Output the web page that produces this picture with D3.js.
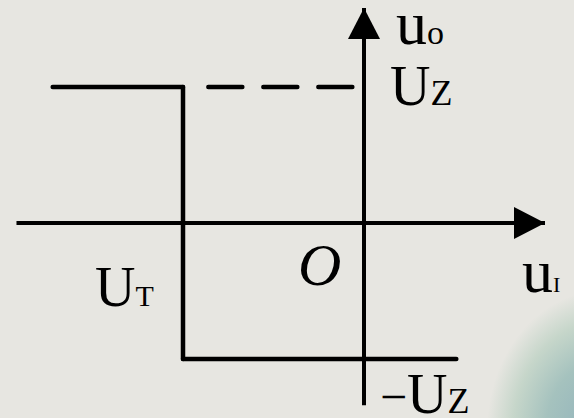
<!DOCTYPE html>
<html>
<head>
<meta charset="utf-8">
<script src="https://cdn.jsdelivr.net/npm/d3@7"></script>
<style>
  html, body { margin: 0; padding: 0; background: #e7e6e1; }
  svg { display: block; }
</style>
</head>
<body>
<div id="chart"></div>
<script>
let width = 574;
let height = 418;

// hysteresis curve, units: x in |UT|, y in UZ
let upperX = [-1.72, -1];
let upperY = [1, 1];
let jumpX = [-1, -1];
let jumpY = [1, -1];
let lowerX = [-1, 0.51];
let lowerY = [-1, -1];
let dashX = [-0.86, -0.05];
let dashY = [1, 1];
let axisXRange = [-1.92, 1.0];
let axisYRange = [-1.34, 1.58];

let x = d3.scaleLinear().domain([-1, 0]).range([183, 364]);
let y = d3.scaleLinear().domain([-1, 1]).range([359, 87]);

let svg = d3.select("#chart").append("svg")
    .attr("width", width)
    .attr("height", height);

svg.append("rect").attr("width", width).attr("height", height).attr("fill", "#e7e6e1");

// decorative blob in the corner, fading softly into the background
let defs = svg.append("defs");
let grad = defs.append("radialGradient").attr("id", "blob")
    .attr("cx", "0.5").attr("cy", "0.5").attr("r", "0.5");
grad.append("stop").attr("offset", "0%").attr("stop-color", "#8eb0bb");
grad.append("stop").attr("offset", "50%").attr("stop-color", "#a5c2be");
grad.append("stop").attr("offset", "78%").attr("stop-color", "#c6d6ca");
grad.append("stop").attr("offset", "100%").attr("stop-color", "#e7e6e1");
svg.append("ellipse")
    .attr("cx", 605).attr("cy", 430)
    .attr("rx", 118).attr("ry", 140)
    .attr("fill", "url(#blob)");

let line = d3.line().x(d => x(d[0])).y(d => y(d[1]));
let pts = (xs, ys) => xs.map((v, i) => [v, ys[i]]);

// axes
svg.append("path")
    .attr("d", line(pts(axisXRange, [0, 0])))
    .attr("stroke", "#000").attr("stroke-width", 4).attr("fill", "none");
svg.append("path")
    .attr("d", line(pts([0, 0], axisYRange)))
    .attr("stroke", "#000").attr("stroke-width", 4).attr("fill", "none");

let tipX = x(axisXRange[1]), tipY = y(axisYRange[1]);
svg.append("path")
    .attr("d", `M${tipX},${y(0)} L${tipX - 31},${y(0) - 16} L${tipX - 31},${y(0) + 16} Z`)
    .attr("fill", "#000");
svg.append("path")
    .attr("d", `M${x(0)},${tipY} L${x(0) - 16},${tipY + 31} L${x(0) + 16},${tipY + 31} Z`)
    .attr("fill", "#000");

// curve
[pts(upperX, upperY), pts(jumpX, jumpY), pts(lowerX, lowerY)].forEach(p => {
    svg.append("path")
        .attr("d", line(p))
        .attr("stroke", "#000").attr("stroke-width", 4.5)
        .attr("stroke-linecap", "round").attr("stroke-linejoin", "miter")
        .attr("fill", "none");
});
svg.append("path")
    .attr("d", line(pts(dashX, dashY)))
    .attr("stroke", "#000").attr("stroke-width", 4.5)
    .attr("stroke-dasharray", "34,21")
    .attr("stroke-linecap", "round")
    .attr("fill", "none");

// labels: one <text> per glyph run, each with its own size
function label(tx, ty, parts) {
    let cx = tx;
    let g = svg.append("g");
    parts.forEach(p => {
        let t = g.append("text")
            .attr("x", cx).attr("y", ty)
            .attr("font-family", "Liberation Serif")
            .attr("font-size", p[1])
            .attr("fill", "#000")
            .text(p[0]);
        if (p[2]) t.attr("font-style", p[2]);
        cx += t.node().getComputedTextLength();
    });
    return g;
}
label(x(0) + 32, y(axisYRange[1]) + 36, [["u", 62], ["o", 34]]);
label(x(0) + 26, y(1) + 18, [["U", 56], ["Z", 36]]);
label(x(0) + 16, y(-1) + 54, [["\u2212", 48], ["U", 56], ["Z", 36]]);
label(x(-1) - 88, y(0) + 83, [["U", 56], ["T", 30]]);
label(tipX - 23, y(0) + 69, [["u", 62], ["I", 22]]);
label(x(0) - 66, y(0) + 62, [["O", 60, "italic"]]);
</script>
</body>
</html>
